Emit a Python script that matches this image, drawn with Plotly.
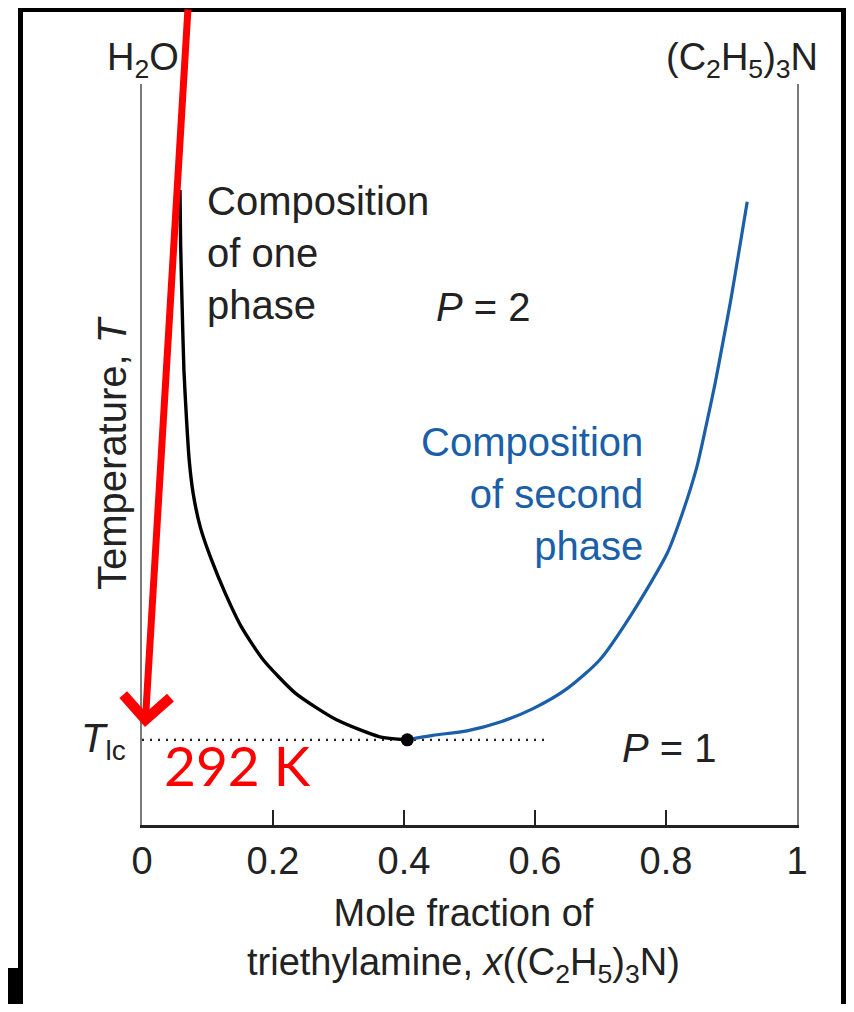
import plotly.graph_objects as go

# ---------------- data ----------------
# Left branch (composition of one phase), x = mole fraction, y = temperature (arbitrary units)
phase1_x = [0.058, 0.059, 0.061, 0.064, 0.068, 0.072, 0.078, 0.089, 0.106, 0.127, 0.152,
            0.185, 0.234, 0.297, 0.363, 0.405]
phase1_y = [85.7, 78.3, 70.9, 61.4, 54.7, 49.3, 44.8, 40.2, 35.8, 31.3, 26.7,
            22.3, 17.8, 14.2, 11.9, 11.5]
# Right branch (composition of second phase)
phase2_x = [0.405, 0.444, 0.496, 0.547, 0.597, 0.649, 0.699, 0.750, 0.802, 0.824, 0.847,
            0.861, 0.875, 0.887, 0.899, 0.911, 0.924]
phase2_y = [11.5, 12.1, 12.7, 13.9, 15.7, 18.4, 22.3, 28.8, 36.7, 41.8, 48.3,
            53.8, 59.6, 65.2, 70.9, 77.2, 84.1]
# Lower critical point
crit_x = [0.405]
crit_T = 11.5
tie_end_x = 0.615
x_ticks = [0, 0.2, 0.4, 0.6, 0.8, 1]
x_tick_text = ["0", "0.2", "0.4", "0.6", "0.8", "1"]

# ---------------- layout geometry ----------------
OFF = 8                      # page body margin
W, H = 854 - 2 * OFF, 1012 - 2 * OFF
L, R, T, B = 142, 797, 84, 825   # plot area in page pixels
PW, PH = R - L, B - T

def px(x):
    return (x - L) / PW

def py(y):
    return (B - y) / PH

FONT = "Liberation Sans, Arial, Helvetica, sans-serif"
BLUE = "#1a5fa8"

fig = go.Figure()

fig.add_trace(go.Scatter(x=[0, tie_end_x], y=[crit_T, crit_T], mode="lines",
                         line=dict(color="#222222", width=2.2, dash="2px,6px"),
                         hoverinfo="skip", showlegend=False))
fig.add_trace(go.Scatter(x=phase2_x, y=phase2_y, mode="lines",
                         line=dict(color=BLUE, width=3.2, shape="spline", smoothing=0.7),
                         showlegend=False))
fig.add_trace(go.Scatter(x=phase1_x, y=phase1_y, mode="lines",
                         line=dict(color="black", width=3.4, shape="spline", smoothing=0.6),
                         showlegend=False))
fig.add_trace(go.Scatter(x=crit_x, y=[crit_T], mode="markers",
                         marker=dict(color="black", size=13),
                         showlegend=False))

fig.update_xaxes(range=[0, 1], showgrid=False, zeroline=False,
                 showline=True, linecolor="#222222", linewidth=3, mirror=False,
                 ticks="inside", ticklen=15, tickwidth=2, tickcolor="#222222",
                 tickvals=x_ticks, ticktext=x_tick_text,
                 tickfont=dict(family=FONT, size=38, color="#222222"))
fig.update_yaxes(range=[0, 100], showgrid=False, zeroline=False,
                 showline=True, linecolor="#7a7a7a", linewidth=1.6, mirror=True,
                 ticks="", showticklabels=False)

ann = []
def add_text(x, y, text, size=40, color="#222222", xanchor="center", align="center",
             family=FONT, textangle=0):
    ann.append(dict(x=x, y=y, xref="paper", yref="paper", text=text, showarrow=False,
                    xanchor=xanchor, yanchor="middle", align=align, textangle=textangle,
                    font=dict(family=family, size=size, color=color)))

add_text(px(143), py(60), "H<sub>2</sub>O", size=38)
add_text(px(742), py(60), "(C<sub>2</sub>H<sub>5</sub>)<sub>3</sub>N", size=38)
add_text(px(205), py(253), "Composition<br>of one<br>phase", xanchor="left", align="left")
add_text(px(483), py(307), "<i>P</i> = 2")
add_text(px(645), py(494), "Composition<br>of second<br>phase", color=BLUE,
         xanchor="right", align="right")
add_text(px(669), py(748), "<i>P</i> = 1")
add_text(px(112), py(453), "Temperature, <i>T</i>", textangle=-90)
add_text(px(463), py(940), "Mole fraction of<br>triethylamine, <i>x</i>((C<sub>2</sub>H<sub>5</sub>)<sub>3</sub>N)",
         size=38)
add_text(px(128), py(741), "<i>T</i><sub>lc</sub>", size=40, xanchor="right")
add_text(px(237), py(765), "292 K", size=55, color="#ff0000", family="Lato, Open Sans, sans-serif")

# red arrow pointing at T_lc
ann.append(dict(x=px(145), y=py(727), xref="paper", yref="paper",
                ax=188 - 145, ay=-5 - 727, axref="pixel", ayref="pixel",
                showarrow=True, arrowhead=4, arrowsize=1.3, arrowwidth=7,
                arrowcolor="#ff0000", text=""))

# slide border decoration (black bars)
shapes = []
def rect(x0, y0, x1, y1):
    shapes.append(dict(type="rect", xref="paper", yref="paper",
                       x0=px(x0), x1=px(x1), y0=py(y0), y1=py(y1),
                       fillcolor="black", line=dict(width=0), layer="above"))
rect(18, 0, 854, 12)
rect(18, 0, 23, 1012)
rect(0, 968, 23, 1012)
rect(841, 0, 854, 1012)

fig.update_layout(width=W, height=H,
                  margin=dict(l=L - OFF, r=W - (R - OFF), t=T - OFF, b=H - (B - OFF)),
                  paper_bgcolor="white", plot_bgcolor="white",
                  annotations=ann, shapes=shapes, showlegend=False)

fig.write_html("out.html")
